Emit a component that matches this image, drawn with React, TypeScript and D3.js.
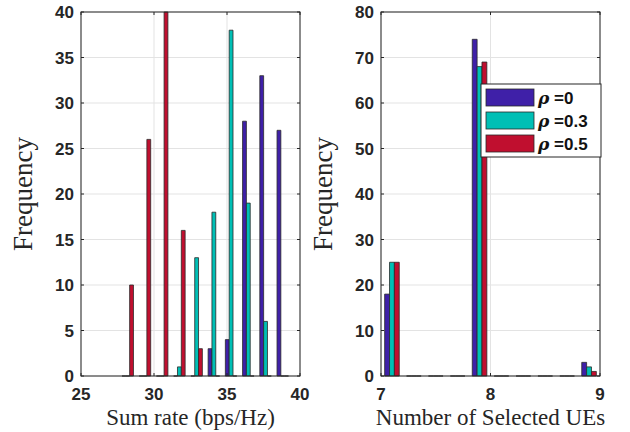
import React, { useEffect, useRef } from 'react'
import * as d3 from 'd3'

// histogram of sum rate, bin centers (bps/Hz)
const rateBins = [28.2, 29.38, 30.56, 31.74, 32.92, 34.1, 35.28, 36.46, 37.64, 38.82]
const rateRho0 = [0, 0, 0, 0, 0, 3, 4, 28, 33, 27]
const rateRho03 = [0, 0, 0, 1, 13, 18, 38, 19, 6, 0]
const rateRho05 = [10, 26, 40, 16, 3, 0, 0, 0, 0, 0]

// histogram of number of selected UEs
const ueBins = [7.1, 7.3, 7.5, 7.7, 7.9, 8.1, 8.3, 8.5, 8.7, 8.9]
const ueRho0 = [18, 0, 0, 0, 74, 0, 0, 0, 0, 3]
const ueRho03 = [25, 0, 0, 0, 68, 0, 0, 0, 0, 2]
const ueRho05 = [25, 0, 0, 0, 69, 0, 0, 0, 0, 1]

const legendLabels = ['0', '0.3', '0.5']
const colors = ['#3f20a8', '#00bfb5', '#c00f2f']

const W = 630
const H = 432

const App = () => {
  const ref = useRef<SVGSVGElement>(null)

  useEffect(() => {
    const svg = d3.select(ref.current)
    svg.selectAll('*').remove()

    const panel = (opts: any) => {
      const { x0, x1, xDomain, yDomain, xTicks, yTicks, bins, series, xLabel, binStep } = opts
      const top = 12, bottom = 376
      const x = d3.scaleLinear().domain(xDomain).range([x0, x1])
      const y = d3.scaleLinear().domain(yDomain).range([bottom, top])
      const g = svg.append('g')

      // grid
      g.selectAll('.gy').data(yTicks).join('line')
        .attr('x1', x0).attr('x2', x1)
        .attr('y1', (d: number) => y(d)).attr('y2', (d: number) => y(d))
        .attr('stroke', '#e3e3e3').attr('stroke-width', 1)
      g.selectAll('.gx').data(xTicks).join('line')
        .attr('y1', top).attr('y2', bottom)
        .attr('x1', (d: number) => x(d)).attr('x2', (d: number) => x(d))
        .attr('stroke', '#e3e3e3').attr('stroke-width', 1)

      // bars (MATLAB grouped: group width 3/4.5 of bin step)
      const bw = (binStep * (3 / 4.5)) / 3
      series.forEach((vals: number[], si: number) => {
        g.append('g').selectAll('path').data(vals).join('path')
          .attr('d', (v: number, i: number) => {
            const xl = x(bins[i] + (si - 1.5) * bw)
            const xr = x(bins[i] + (si - 0.5) * bw)
            return `M${xl},${y(0)}V${y(v)}H${xr}V${y(0)}Z`
          })
          .attr('fill', colors[si])
          .attr('stroke', '#2a2a2a')
          .attr('stroke-width', 0.8)
      })

      // box
      g.append('rect')
        .attr('x', x0).attr('y', top)
        .attr('width', x1 - x0).attr('height', bottom - top)
        .attr('fill', 'none').attr('stroke', '#262626').attr('stroke-width', 1)

      // ticks inward on all sides
      yTicks.forEach((t: number) => {
        g.append('line').attr('x1', x0).attr('x2', x0 + 3).attr('y1', y(t)).attr('y2', y(t)).attr('stroke', '#262626')
        g.append('line').attr('x1', x1).attr('x2', x1 - 3).attr('y1', y(t)).attr('y2', y(t)).attr('stroke', '#262626')
      })
      xTicks.forEach((t: number) => {
        g.append('line').attr('x1', x(t)).attr('x2', x(t)).attr('y1', bottom).attr('y2', bottom - 3).attr('stroke', '#262626')
        g.append('line').attr('x1', x(t)).attr('x2', x(t)).attr('y1', top).attr('y2', top + 3).attr('stroke', '#262626')
      })

      const tickFont = 'Liberation Sans, Arial, sans-serif'
      g.selectAll('.yl').data(yTicks).join('text')
        .attr('x', x0 - 7).attr('y', (d: number) => y(d))
        .attr('dy', '0.36em')
        .attr('text-anchor', 'end')
        .attr('font-family', tickFont).attr('font-weight', 'bold').attr('font-size', 17)
        .attr('fill', '#262626')
        .text((d: number) => d)
      g.selectAll('.xl').data(xTicks).join('text')
        .attr('x', (d: number) => x(d)).attr('y', bottom + 24)
        .attr('text-anchor', 'middle')
        .attr('font-family', tickFont).attr('font-weight', 'bold').attr('font-size', 17)
        .attr('fill', '#262626')
        .text((d: number) => d)

      g.append('text')
        .attr('x', (x0 + x1) / 2).attr('y', 425)
        .attr('text-anchor', 'middle')
        .attr('font-family', 'Liberation Serif, Times New Roman, serif').attr('font-size', 23)
        .attr('fill', '#262626')
        .text(xLabel)
      g.append('text')
        .attr('transform', `translate(${x0 - 49},${(top + bottom) / 2}) rotate(-90)`)
        .attr('text-anchor', 'middle')
        .attr('font-family', 'Liberation Serif, Times New Roman, serif').attr('font-size', 27)
        .attr('fill', '#262626')
        .text('Frequency')
    }

    panel({
      x0: 81, x1: 300, xDomain: [25, 40], yDomain: [0, 40],
      xTicks: [25, 30, 35, 40], yTicks: d3.range(0, 41, 5),
      bins: rateBins, binStep: rateBins[1] - rateBins[0],
      series: [rateRho0, rateRho03, rateRho05],
      xLabel: 'Sum rate (bps/Hz)'
    })
    panel({
      x0: 381, x1: 600, xDomain: [7, 9], yDomain: [0, 80],
      xTicks: [7, 8, 9], yTicks: d3.range(0, 81, 10),
      bins: ueBins, binStep: ueBins[1] - ueBins[0],
      series: [ueRho0, ueRho03, ueRho05],
      xLabel: 'Number of Selected UEs'
    })

    // legend
    const lg = svg.append('g').attr('transform', 'translate(481,84)')
    lg.append('rect').attr('width', 120).attr('height', 73)
      .attr('fill', '#fff').attr('stroke', '#262626').attr('stroke-width', 1)
    legendLabels.forEach((lab, i) => {
      const ry = 5 + i * 23
      lg.append('rect').attr('x', 5).attr('y', ry).attr('width', 48).attr('height', 17)
        .attr('fill', colors[i]).attr('stroke', '#2a2a2a').attr('stroke-width', 0.8)
      const t = lg.append('text').attr('x', 57).attr('y', ry + 15)
        .attr('font-size', 17).attr('font-weight', 'bold').attr('fill', '#111')
      t.append('tspan').attr('font-family', 'DejaVu Serif, serif').attr('font-style', 'italic').text('ρ')
      t.append('tspan').attr('font-family', 'Liberation Sans, Arial, sans-serif').text(' =' + lab)
    })
  }, [])

  return (
    <svg ref={ref} width={W} height={H}
      style={{ position: 'absolute', left: 0, top: 0, background: '#fff' }} />
  )
}

export default App
